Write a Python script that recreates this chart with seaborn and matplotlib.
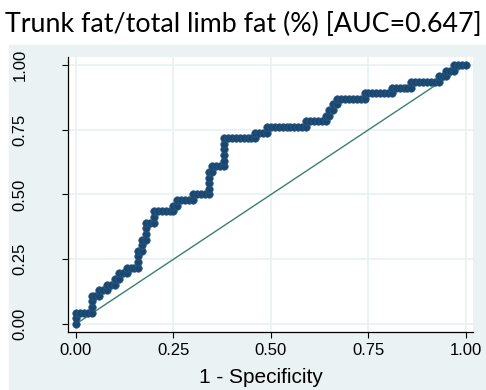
import matplotlib
matplotlib.use("Agg")
import matplotlib.pyplot as plt
import seaborn as sns
import pandas as pd
import numpy as np

sns.set_theme(style="white")
plt.rcParams['font.family'] = ['Liberation Sans', 'DejaVu Sans']

n_neg = 100
n_pos = 46
pos_runs = [2, 3, 1, 1, 1, 1, 1, 3, 2, 3, 2, 1, 1, 1, 4, 1, 5, 1, 1, 1, 1, 1, 1, 1, 1, 1, 1, 1, 1, 1]
neg_runs = [4, 2, 2, 2, 1, 2, 3, 1, 1, 2, 5, 1, 4, 4, 1, 3, 8, 3, 10, 5, 1, 1, 1, 7, 7, 5, 7, 2, 2, 3]
title = "Trunk fat/total limb fat (%) [AUC=0.647]"
ticks = [0.0, 0.25, 0.5, 0.75, 1.0]
tick_labels = ["0.00", "0.25", "0.50", "0.75", "1.00"]

# cumulative counts -> one point per observation
fp, tp = 0, 0
pts = [(0, 0)]
for p, n in zip(pos_runs, neg_runs):
    for _ in range(p):
        tp += 1
        pts.append((fp, tp))
    for _ in range(n):
        fp += 1
        pts.append((fp, tp))
df = pd.DataFrame(pts, columns=["fp", "tp"])
df["x"] = df["fp"] / n_neg
df["y"] = df["tp"] / n_pos

W, H = 486, 390
fig = plt.figure(figsize=(W / 100, H / 100), dpi=100)
fig.patch.set_facecolor("white")

bg = "#EAF2F3"
fig.patches.append(plt.Rectangle((9 / W, 0), (W - 9) / W, (H - 45) / H,
                                 transform=fig.transFigure, color=bg, zorder=-5))

ax = fig.add_axes([68 / W, (H - 332) / H, 405 / W, 275 / H])
ax.set_zorder(2)
ax.set_facecolor("white")

ax.plot([0, 1], [0, 1], color="#3B7F70", lw=1.0, zorder=2)
sns.lineplot(data=df, x="x", y="y", sort=False, estimator=None, ax=ax,
             color="#1A476F", lw=1.0, marker="o", markersize=5.4,
             markeredgecolor="#2A5A85", markeredgewidth=0.5, zorder=3)

ax.set_xlim(-0.0205, 1.018)
ax.set_ylim(-0.031, 1.031)
ax.set_xticks(ticks)
ax.set_xticklabels(tick_labels)
ax.set_yticks(ticks)
ax.set_yticklabels(tick_labels, rotation=90, va="center")
ax.grid(True, color=bg, lw=1.3)
ax.set_axisbelow(True)

for s in ["top", "right"]:
    ax.spines[s].set_visible(False)
for s in ["left", "bottom"]:
    ax.spines[s].set_color("black")
    ax.spines[s].set_linewidth(0.9)

ax.tick_params(axis="both", direction="out", length=4, width=0.8, color="black",
               labelsize=12, labelcolor="black", bottom=True, left=True)
ax.tick_params(axis="x", pad=4)
ax.tick_params(axis="y", pad=25)
ax.set_xlabel("1 - Specificity", fontsize=15, color="black")
ax.xaxis.set_label_coords((261 - 68) / 405, -0.132)
ax.set_ylabel("")

fig.text(0.5, 1 - 24 / H, title, ha="center", va="center", fontsize=19.3,
         family=["Lato", "DejaVu Sans"], color="black")

fig.savefig("out.png", dpi=100)
